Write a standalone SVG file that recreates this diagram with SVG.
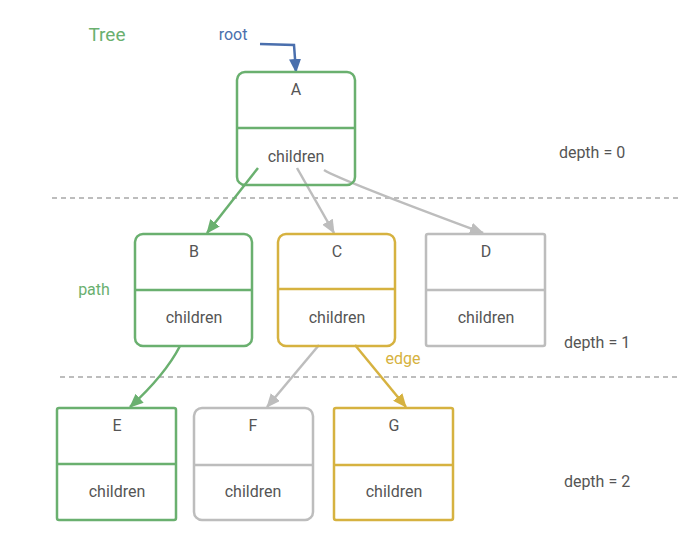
<svg xmlns="http://www.w3.org/2000/svg" width="694" height="553" viewBox="0 0 694 553">
<style>
text{font-family:"Roboto","Liberation Sans",sans-serif;font-size:16px;text-anchor:middle}
.lbl{fill:#555}
.box{fill:none;stroke-width:2.5}
.g{stroke:#6ab06f}.y{stroke:#d6b240}.s{stroke:#bdbdbd}
.dash{stroke:#bdbdbd;stroke-width:2;stroke-dasharray:5 4}
.c{fill:none;stroke-width:2.5}
</style>
<defs>
<marker id="mg" markerWidth="14" markerHeight="12" refX="13" refY="6" orient="auto" markerUnits="userSpaceOnUse" viewBox="0 0 14 12"><path d="M0,0 L14,6 L0,12 z" fill="#6ab06f"/></marker>
<marker id="ms" markerWidth="14" markerHeight="12" refX="13" refY="6" orient="auto" markerUnits="userSpaceOnUse" viewBox="0 0 14 12"><path d="M0,0 L14,6 L0,12 z" fill="#bdbdbd"/></marker>
<marker id="my" markerWidth="14" markerHeight="12" refX="13" refY="6" orient="auto" markerUnits="userSpaceOnUse" viewBox="0 0 14 12"><path d="M0,0 L14,6 L0,12 z" fill="#d6b240"/></marker>
<marker id="mb" markerWidth="14" markerHeight="12" refX="13" refY="6" orient="auto" markerUnits="userSpaceOnUse" viewBox="0 0 14 12"><path d="M0,0 L14,6 L0,12 z" fill="#4a6fad"/></marker>
</defs>
<rect width="694" height="553" fill="#fff"/>
<text x="107" y="41" style="font-size:19px" fill="#6ab06f">Tree</text>
<text x="233" y="40" fill="#4a6fad">root</text>
<text x="94" y="295" fill="#6ab06f">path</text>
<text x="403" y="364" fill="#d6b240">edge</text>
<text x="592" y="158" class="lbl">depth = 0</text>
<text x="597" y="348" class="lbl">depth = 1</text>
<text x="597" y="487" class="lbl">depth = 2</text>
<line class="dash" x1="52" y1="198" x2="680" y2="198"/>
<line class="dash" x1="60" y1="377" x2="680" y2="377"/>
<g id="connectors">
<path class="c" stroke="#4a6fad" d="M260,44 L294,45 L296,72" marker-end="url(#mb)"/>
<path class="c" stroke="#6ab06f" d="M258,168 L207,233" marker-end="url(#mg)"/>
<path class="c" stroke="#bdbdbd" d="M297,168 L334,233" marker-end="url(#ms)"/>
<path class="c" stroke="#bdbdbd" d="M324,170 Q340,180 483,233" marker-end="url(#ms)"/>
<path class="c" stroke="#6ab06f" d="M180,346 Q165,375 130,407" marker-end="url(#mg)"/>
<path class="c" stroke="#bdbdbd" d="M319,345 L267,407" marker-end="url(#ms)"/>
<path class="c" stroke="#d6b240" d="M355,345 L406,407" marker-end="url(#my)"/>
</g>
<g id="A"><rect class="box g" x="237" y="72" width="118" height="113" rx="8"/><line class="box g" x1="237" y1="128" x2="355" y2="128"/><text class="lbl" x="296" y="95">A</text><text class="lbl" x="296" y="162">children</text></g>
<g id="B"><rect class="box g" x="135" y="234" width="117" height="112" rx="8"/><line class="box g" x1="135" y1="290" x2="252" y2="290"/><text class="lbl" x="194" y="257">B</text><text class="lbl" x="194" y="323">children</text></g>
<g id="C"><rect class="box y" x="278" y="234" width="117" height="112" rx="8"/><line class="box y" x1="278" y1="289" x2="395" y2="289"/><text class="lbl" x="337" y="257">C</text><text class="lbl" x="337" y="323">children</text></g>
<g id="D"><rect class="box s" x="426" y="234" width="119" height="112" rx="2"/><line class="box s" x1="426" y1="290" x2="545" y2="290"/><text class="lbl" x="486" y="257">D</text><text class="lbl" x="486" y="323">children</text></g>
<g id="E"><rect class="box g" x="57" y="408" width="119" height="112" rx="2"/><line class="box g" x1="57" y1="464" x2="176" y2="464"/><text class="lbl" x="117" y="431">E</text><text class="lbl" x="117" y="497">children</text></g>
<g id="F"><rect class="box s" x="194" y="408" width="119" height="112" rx="8"/><line class="box s" x1="194" y1="465" x2="313" y2="465"/><text class="lbl" x="253" y="431">F</text><text class="lbl" x="253" y="497">children</text></g>
<g id="G"><rect class="box y" x="334" y="408" width="119" height="112" rx="2"/><line class="box y" x1="334" y1="465" x2="453" y2="465"/><text class="lbl" x="394" y="431">G</text><text class="lbl" x="394" y="497">children</text></g>
</svg>
